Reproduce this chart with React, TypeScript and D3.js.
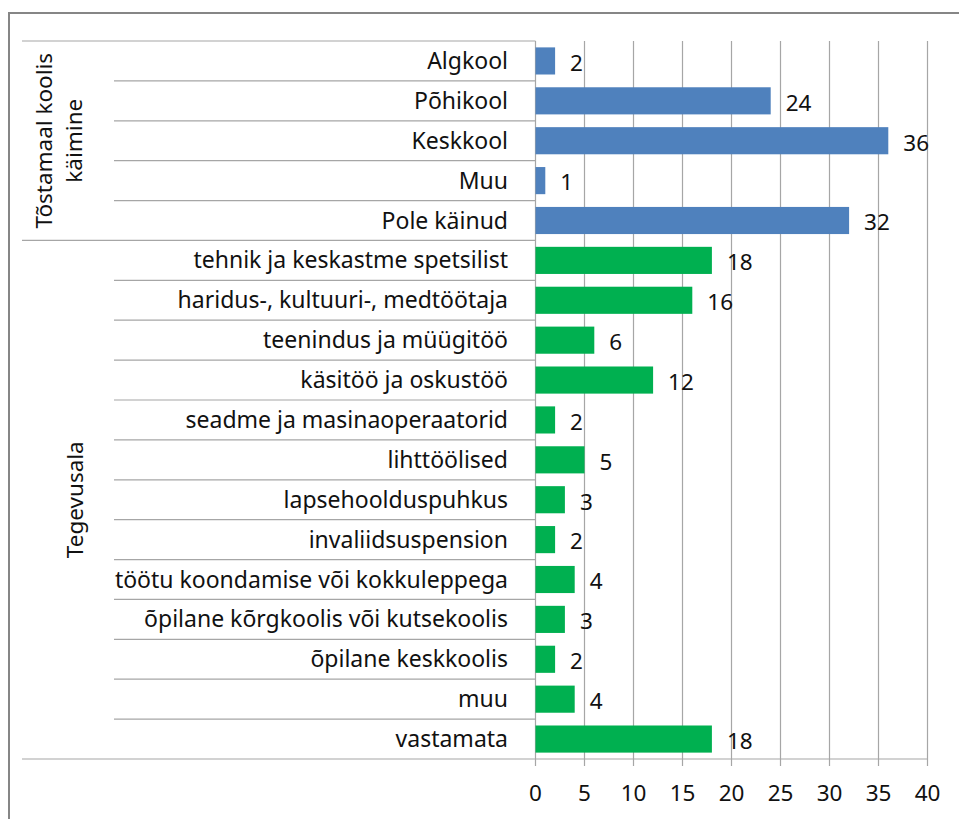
import React from 'react';
import * as d3 from 'd3';

const schoolCats = ['Algkool', 'Põhikool', 'Keskkool', 'Muu', 'Pole käinud'];
const schoolVals = [2, 24, 36, 1, 32];
const workCats = [
  'tehnik ja keskastme spetsilist',
  'haridus-, kultuuri-, medtöötaja',
  'teenindus ja müügitöö',
  'käsitöö ja oskustöö',
  'seadme ja masinaoperaatorid',
  'lihttöölised',
  'lapsehoolduspuhkus',
  'invaliidsuspension',
  'töötu koondamise või kokkuleppega',
  'õpilane kõrgkoolis või kutsekoolis',
  'õpilane keskkoolis',
  'muu',
  'vastamata',
];
const workVals = [18, 16, 6, 12, 2, 5, 3, 2, 4, 3, 2, 4, 18];
const groupNames = [['Tõstamaal koolis', 'käimine'], ['Tegevusala']];
const xTicks = [0, 5, 10, 15, 20, 25, 30, 35, 40];

const font = '"Noto Sans", sans-serif';
const fs = 22.5;

export default function App() {
  const W = 959;
  const H = 819;
  const left = 535.5;
  const right = 927.5;
  const top = 41;
  const bottom = 759;

  const rows = [
    ...schoolCats.map((c, i) => ({ key: 's' + i, label: c, value: schoolVals[i], color: '#4F81BD' })),
    ...workCats.map((c, i) => ({ key: 'w' + i, label: c, value: workVals[i], color: '#00B050' })),
  ];

  const x = d3.scaleLinear().domain([0, 40]).range([left, right]);
  const y = d3
    .scaleBand<string>()
    .domain(rows.map((r) => r.key))
    .range([top, bottom])
    .paddingInner(0.32)
    .paddingOuter(0.16);
  const step = y.step();

  // group boundaries
  const groupBounds = [
    [top, top + step * schoolCats.length],
    [top + step * schoolCats.length, bottom],
  ];

  return (
    <svg width={W} height={H} style={{ position: 'absolute', left: 0, top: 0 }} fontFamily={font}>
      <rect x={0} y={0} width={W} height={H} fill="#fff" />
      {/* chart border */}
      <rect x={9} y={13} width={W + 20} height={H + 20} fill="none" stroke="#868686" strokeWidth={2} />

      {/* gridlines */}
      {xTicks.map((t) => (
        <line key={'g' + t} x1={x(t)} x2={x(t)} y1={top} y2={bottom + 7} stroke="#a6a6a6" strokeWidth={1.2} />
      ))}
      <line x1={left} x2={right} y1={bottom} y2={bottom} stroke="#a6a6a6" strokeWidth={1.2} />

      {/* category separators */}
      {rows.map((r, i) => {
        const yy = top + step * i;
        const isGroup = i === 0 || i === schoolCats.length;
        return (
          <line key={'sep' + r.key} x1={isGroup ? 22 : 114} x2={left} y1={yy} y2={yy} stroke="#a6a6a6" strokeWidth={1.2} />
        );
      })}
      <line x1={22} x2={left} y1={bottom} y2={bottom} stroke="#a6a6a6" strokeWidth={1.2} />

      {/* bars */}
      {rows.map((r) => (
        <rect
          key={'b' + r.key}
          x={x(0)}
          y={y(r.key)}
          width={x(r.value) - x(0)}
          height={y.bandwidth()}
          fill={r.color}
        />
      ))}

      {/* category labels */}
      {rows.map((r) => (
        <text
          key={'l' + r.key}
          x={508}
          y={(y(r.key) as number) + y.bandwidth() / 2}
          dy="0.35em"
          textAnchor="end"
          fontSize={23}
          fill="#111"
        >
          {r.label}
        </text>
      ))}

      {/* value labels */}
      {rows.map((r) => (
        <text
          key={'v' + r.key}
          x={x(r.value) + 15}
          y={(y(r.key) as number) + y.bandwidth() / 2 + 2}
          dy="0.35em"
          fontSize={fs}
          fill="#111"
        >
          {r.value}
        </text>
      ))}

      {/* group labels */}
      {groupNames.map((lines, gi) => {
        const cy = (groupBounds[gi][0] + groupBounds[gi][1]) / 2;
        const baseX = gi === 0 ? 52 : 83;
        return (
          <text key={'grp' + gi} transform={`translate(${baseX},${cy}) rotate(-90)`} textAnchor="middle" fontSize={fs} fill="#111">
            {lines.map((ln, li) => (
              <tspan key={li} x={0} y={li * 30}>
                {ln}
              </tspan>
            ))}
          </text>
        );
      })}

      {/* x tick labels */}
      {xTicks.map((t) => (
        <text key={'t' + t} x={x(t)} y={801} textAnchor="middle" fontSize={fs} fill="#111">
          {t}
        </text>
      ))}
    </svg>
  );
}
